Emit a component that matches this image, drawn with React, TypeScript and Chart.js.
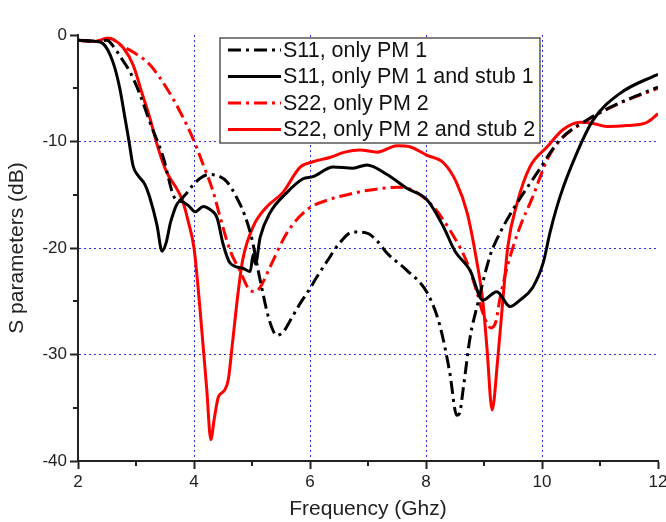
import React, { useEffect, useRef } from 'react';
import { Chart, registerables } from 'chart.js';
Chart.register(...registerables);

// ---- data (frequency in GHz, S parameters in dB) ----
const s11OnlyFreq = [2.0, 2.3, 2.5, 2.6, 2.75, 2.9, 3.07, 3.24, 3.47, 3.64, 3.72, 3.85, 3.98, 4.12, 4.25, 4.4, 4.57, 4.74, 4.88, 5.0, 5.14, 5.3, 5.43, 5.55, 5.66, 5.83, 6.0, 6.12, 6.3, 6.5, 6.74, 6.98, 7.15, 7.33, 7.67, 8.02, 8.24, 8.41, 8.53, 8.58, 8.64, 8.76, 8.88, 9.1, 9.22, 9.5, 9.91, 10.3, 10.83, 11.1, 11.5, 12.0];
const s11OnlyDb = [-0.5, -0.6, -0.5, -1.0, -2.2, -3.5, -5.6, -8.2, -11.5, -15.0, -15.6, -15.0, -14.1, -13.4, -13.1, -13.2, -13.8, -15.3, -17.0, -19.2, -23.0, -26.8, -28.2, -27.8, -26.8, -25.2, -23.8, -22.7, -21.2, -19.6, -18.5, -18.6, -19.3, -20.5, -22.1, -24.2, -27.3, -31.7, -35.7, -35.5, -33.3, -28.4, -25.5, -20.8, -19.2, -16.4, -13.0, -9.9, -7.8, -7.0, -6.0, -4.9];

const s11StubFreq = [2.0, 2.3, 2.43, 2.6, 2.72, 2.81, 2.88, 2.95, 3.05, 3.15, 3.24, 3.36, 3.45, 3.52, 3.6, 3.76, 3.9, 4.02, 4.16, 4.28, 4.4, 4.5, 4.62, 4.84, 4.97, 5.02, 5.06, 5.14, 5.31, 5.6, 5.88, 6.05, 6.4, 6.74, 6.98, 7.33, 7.67, 8.02, 8.3, 8.5, 8.76, 8.98, 9.22, 9.45, 9.62, 9.84, 10.02, 10.14, 10.31, 10.6, 10.88, 11.34, 11.91, 12.0];
const s11StubDb = [-0.5, -0.6, -0.8, -2.5, -5.0, -7.8, -10.0, -12.3, -13.3, -14.0, -15.3, -17.8, -20.3, -19.5, -17.5, -15.6, -16.0, -16.6, -16.1, -16.4, -17.2, -19.6, -21.4, -21.9, -22.2, -20.6, -21.5, -19.0, -16.7, -14.8, -13.5, -13.3, -12.4, -12.5, -12.2, -13.1, -14.4, -15.5, -18.0, -20.3, -22.1, -24.9, -24.1, -25.5, -24.9, -23.7, -21.4, -18.5, -15.2, -11.1, -8.0, -5.5, -3.9, -3.7];

const s22OnlyFreq = [2.0, 2.3, 2.5, 2.6, 2.72, 2.95, 3.24, 3.53, 3.76, 3.98, 4.16, 4.33, 4.45, 4.62, 4.79, 4.97, 5.06, 5.14, 5.31, 5.6, 5.95, 6.3, 6.64, 6.98, 7.55, 7.78, 8.12, 8.41, 8.71, 8.88, 8.98, 9.12, 9.2, 9.28, 9.4, 9.6, 9.84, 10.09, 10.31, 10.78, 11.34, 12.0];
const s22OnlyDb = [-0.5, -0.6, -0.3, -0.4, -0.9, -1.6, -2.8, -5.0, -7.2, -9.7, -12.2, -14.7, -17.1, -20.2, -22.1, -24.0, -24.1, -23.7, -21.8, -18.6, -16.4, -15.5, -15.0, -14.6, -14.3, -14.6, -16.1, -18.3, -21.4, -24.2, -26.1, -27.5, -27.0, -24.6, -21.8, -18.3, -15.2, -11.7, -9.9, -8.0, -6.4, -5.0];

const s22StubFreq = [2.0, 2.3, 2.5, 2.6, 2.78, 2.95, 3.1, 3.24, 3.38, 3.53, 3.7, 3.8, 3.9, 4.0, 4.1, 4.22, 4.29, 4.35, 4.42, 4.52, 4.59, 4.67, 4.76, 4.84, 5.02, 5.26, 5.53, 5.83, 6.05, 6.34, 6.6, 6.86, 7.16, 7.5, 7.72, 8.02, 8.3, 8.53, 8.71, 8.88, 8.98, 9.05, 9.14, 9.24, 9.33, 9.41, 9.57, 9.79, 10.09, 10.36, 10.66, 10.88, 11.12, 11.47, 11.81, 12.0];
const s22StubDb = [-0.5, -0.6, -0.3, -0.4, -1.2, -2.8, -5.4, -7.8, -10.6, -12.9, -14.4, -15.5, -17.5, -20.0, -25.5, -33.3, -38.0, -36.0, -34.0, -33.4, -32.4, -28.6, -24.2, -21.1, -18.0, -16.1, -14.8, -12.4, -11.9, -11.5, -11.0, -10.8, -11.0, -10.4, -10.5, -11.3, -12.0, -13.9, -16.7, -21.4, -25.0, -29.3, -35.2, -30.2, -24.6, -19.9, -15.8, -12.4, -10.5, -8.9, -8.2, -8.3, -8.6, -8.5, -8.2, -7.4];

const seriesLabels = [
  'S11, only PM 1',
  'S11, only PM 1 and stub 1',
  'S22, only PM 2',
  'S22, only PM 2 and stub 2',
];

const xMajorTicks = [2, 4, 6, 8, 10, 12];
const xMinorTicks = [3, 5, 7, 9, 11];
const yMajorTicks = [0, -10, -20, -30, -40];
const yMinorTicks = [-5, -15, -25, -35];

const FONT = '"Liberation Sans", Arial, Helvetica, sans-serif';
const DASH_DOT = [13, 5, 3, 5];
const GRID_BLUE = '#2a2ae8';
const AXIS_COLOR = '#222222';

const zip = (xs: number[], ys: number[]) => xs.map((x, i) => ({ x, y: ys[i] }));

const minorTicksPlugin = {
  id: 'minorTicks',
  afterDraw(chart: any) {
    const { ctx, chartArea, scales } = chart;
    ctx.save();
    ctx.strokeStyle = AXIS_COLOR;
    ctx.lineWidth = 2;
    for (const v of xMinorTicks) {
      const px = Math.round(scales.x.getPixelForValue(v));
      ctx.beginPath();
      ctx.moveTo(px, chartArea.bottom);
      ctx.lineTo(px, chartArea.bottom + 5);
      ctx.stroke();
    }
    for (const v of yMinorTicks) {
      const py = Math.round(scales.y.getPixelForValue(v));
      ctx.beginPath();
      ctx.moveTo(chartArea.left - 5, py);
      ctx.lineTo(chartArea.left, py);
      ctx.stroke();
    }
    ctx.restore();
  },
};

const boxLegendPlugin = {
  id: 'boxLegend',
  afterDatasetsDraw(chart: any) {
    const { ctx, chartArea } = chart;
    const left = chartArea.left + 142;
    const top = chartArea.top + 3;
    const width = 320;
    const height = 105;
    ctx.save();
    ctx.fillStyle = '#ffffff';
    ctx.fillRect(left, top, width, height);
    ctx.strokeStyle = '#555555';
    ctx.lineWidth = 1.5;
    ctx.strokeRect(left, top, width, height);
    const rowH = 26.5;
    chart.data.datasets.forEach((ds: any, i: number) => {
      const cy = top + 12 + i * rowH;
      ctx.beginPath();
      ctx.setLineDash(ds.borderDash || []);
      ctx.strokeStyle = ds.borderColor;
      ctx.lineWidth = ds.borderWidth;
      ctx.moveTo(left + 8, cy);
      ctx.lineTo(left + 61, cy);
      ctx.stroke();
      ctx.setLineDash([]);
      ctx.fillStyle = '#111111';
      ctx.font = `21.5px ${FONT}`;
      ctx.textBaseline = 'middle';
      ctx.textAlign = 'left';
      ctx.fillText(ds.label, left + 63, cy + 1);
    });
    ctx.restore();
  },
};

export default function App() {
  const ref = useRef<HTMLCanvasElement>(null);
  useEffect(() => {
    const canvas = ref.current;
    if (!canvas) return;
    const datasets = [
      { label: seriesLabels[0], data: zip(s11OnlyFreq, s11OnlyDb), borderColor: '#000000', borderDash: DASH_DOT, borderWidth: 3 },
      { label: seriesLabels[1], data: zip(s11StubFreq, s11StubDb), borderColor: '#000000', borderDash: [], borderWidth: 3 },
      { label: seriesLabels[2], data: zip(s22OnlyFreq, s22OnlyDb), borderColor: '#ff0000', borderDash: DASH_DOT, borderWidth: 3 },
      { label: seriesLabels[3], data: zip(s22StubFreq, s22StubDb), borderColor: '#ff0000', borderDash: [], borderWidth: 3 },
    ];
    const chart = new Chart(canvas, {
      type: 'line',
      data: { datasets: datasets as any },
      options: {
        responsive: false,
        devicePixelRatio: 1,
        animation: false,
        layout: { padding: { top: 35, right: 8, left: 0, bottom: 0 } },
        plugins: { legend: { display: false }, tooltip: { enabled: false } },
        elements: {
          point: { radius: 0 },
          line: { tension: 0.4, cubicInterpolationMode: 'monotone', fill: false, borderCapStyle: 'butt' },
        },
        scales: {
          x: {
            type: 'linear',
            min: 2,
            max: 12,
            afterFit: (s: any) => { s.height = 61; s.paddingRight = 0; s.paddingLeft = 0; },
            ticks: {
              stepSize: 1,
              autoSkip: false,
              maxRotation: 0,
              padding: 3,
              color: AXIS_COLOR,
              font: { family: FONT, size: 17 },
              callback: (v: any) => (xMajorTicks.includes(Number(v)) ? String(v) : ''),
            },
            grid: {
              lineWidth: 1,
              tickLength: 8,
              tickWidth: 2,
              color: (c: any) => {
                const v = c.tick ? c.tick.value : NaN;
                return xMajorTicks.includes(v) && v !== 2 && v !== 12 ? GRID_BLUE : 'rgba(0,0,0,0)';
              },
              tickColor: (c: any) => (c.tick && xMajorTicks.includes(c.tick.value) ? AXIS_COLOR : 'rgba(0,0,0,0)'),
            },
            border: { color: AXIS_COLOR, width: 2, dash: [2, 3] },
            title: {
              display: true,
              text: 'Frequency (Ghz)',
              color: AXIS_COLOR,
              font: { family: FONT, size: 21 },
              padding: { top: 0, bottom: 0 },
            },
          },
          y: {
            type: 'linear',
            min: -40,
            max: 0,
            afterFit: (s: any) => { s.width = 78; s.paddingTop = 0; s.paddingBottom = 0; },
            ticks: {
              stepSize: 5,
              autoSkip: false,
              padding: 3,
              color: AXIS_COLOR,
              font: { family: FONT, size: 17 },
              callback: (v: any) => (yMajorTicks.includes(Number(v)) ? String(v) : ''),
            },
            grid: {
              lineWidth: 1,
              tickLength: 8,
              tickWidth: 2,
              color: (c: any) => {
                const v = c.tick ? c.tick.value : NaN;
                return yMajorTicks.includes(v) && v !== 0 && v !== -40 ? GRID_BLUE : 'rgba(0,0,0,0)';
              },
              tickColor: (c: any) => (c.tick && yMajorTicks.includes(c.tick.value) ? AXIS_COLOR : 'rgba(0,0,0,0)'),
            },
            border: { color: AXIS_COLOR, width: 2, dash: [2, 3] },
            title: {
              display: true,
              text: 'S parameters (dB)',
              color: AXIS_COLOR,
              font: { family: FONT, size: 21 },
              padding: { top: 5, bottom: 0 },
            },
          },
        },
      } as any,
      plugins: [minorTicksPlugin, boxLegendPlugin],
    });
    return () => chart.destroy();
  }, []);
  return (
    <div style={{ position: 'absolute', left: 0, top: 0, width: 666, height: 522, background: '#ffffff' }}>
      <canvas ref={ref} width={666} height={522} style={{ display: 'block', width: 666, height: 522 }} />
    </div>
  );
}
